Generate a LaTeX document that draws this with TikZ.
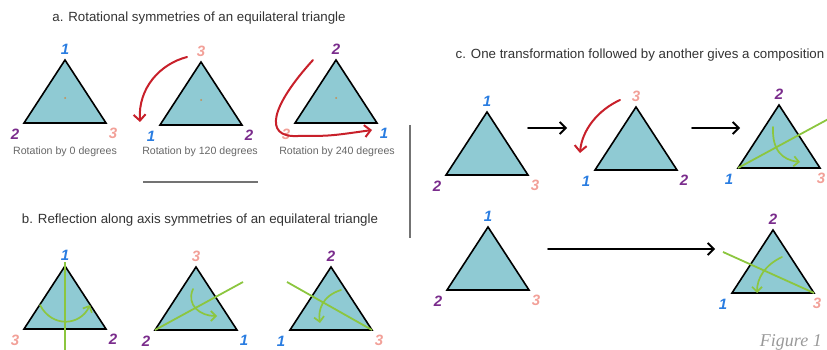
\documentclass[tikz,border=0pt]{standalone}
\usepackage{fontspec}
\setmainfont{Liberation Sans}
\newfontfamily\figfont{Liberation Serif}
\usepackage{tikz}
\usetikzlibrary{positioning,arrows.meta,calc}
\definecolor{SymFill}{HTML}{8FCAD3}
\definecolor{SymBlue}{HTML}{2A7DE1}
\definecolor{SymPurple}{HTML}{7A2C8C}
\definecolor{SymPink}{HTML}{F2A098}
\definecolor{SymRed}{HTML}{C8202A}
\definecolor{SymGreen}{HTML}{8CC63F}
\definecolor{SymDot}{HTML}{C98A4B}
\colorlet{Num1}{SymBlue}
\colorlet{Num2}{SymPurple}
\colorlet{Num3}{SymPink}

% triangle: [right label shift], name, apex x, apex y, top, left, right
\newcommand{\symtri}[7][7]{%
  \coordinate (#2-t) at (#3,#4);
  \coordinate (#2-l) at ($(#2-t)+(-41,63)$);
  \coordinate (#2-r) at ($(#2-t)+(41,63)$);
  \draw[triface] (#2-t) -- (#2-r) -- (#2-l) -- cycle;
  \node[digit=#5] (#2-nt) at ($(#2-t)+(0,-11)$) {#5};
  \node[digit=#6] (#2-nl) at ($(#2-l)+(-9,11)$) {#6};
  \node[digit=#7] (#2-nr) at ($(#2-r)+(#1,10)$) {#7};
}

\begin{document}
\begin{tikzpicture}[
    x=1pt, y=-1pt,
    triface/.style={
      draw=black,
      fill=SymFill,
      line width=1.6pt,
      line join=miter
    },
    digit/.style={
      text=Num#1,
      font=\bfseries\itshape\fontsize{15}{15}\selectfont,
      inner sep=0pt
    },
    titletext/.style={
      text=black!80,
      font=\fontsize{13.3}{15}\selectfont,
      inner sep=0pt
    },
    captext/.style={
      text=black!60,
      font=\fontsize{10.6}{12}\selectfont,
      inner sep=0pt
    },
    rotarrow/.style={
      -{Straight Barb[length=6pt,width=12pt]},
      SymRed,
      line width=2pt,
      line cap=round
    },
    flipline/.style={
      SymGreen,
      line width=1.8pt
    },
    fliparrow/.style={
      -{Straight Barb[length=5pt,width=10pt]},
      SymGreen,
      line width=1.7pt,
      line cap=round
    },
    steparrow/.style={
      -{Straight Barb[length=6pt,width=12pt]},
      black,
      line width=1.8pt,
      line cap=round
    },
    rulegray/.style={
      black!55,
      line width=1.2pt
    }
  ]

  \useasboundingbox (0,0) rectangle (827,350);
  \clip (0,0) rectangle (827,350);

  % a. rotations
  \node[titletext] (titleA) at (199,18) {a. Rotational symmetries of an equilateral triangle};
  \symtri{a1}{65}{60}{1}{2}{3}
  \symtri{a2}{201}{62}{3}{1}{2}
  \symtri{a3}{336}{60}{2}{3}{1}
  \foreach \t in {a1,a2,a3}
    \fill[SymDot] ($(\t-t)+(0,38)$) circle (1);
  \node[captext] (capA1) at (65,152) {Rotation by 0 degrees};
  \node[captext] (capA2) at (200,152) {Rotation by 120 degrees};
  \node[captext] (capA3) at (337,152) {Rotation by 240 degrees};

  \coordinate (ra2s) at (187,57);
  \coordinate (ra2e) at (140,122);
  \draw[rotarrow] (ra2s) .. controls (160,64) and (138,88) .. (ra2e);
  \coordinate (ra3s) at (313,60);
  \coordinate (ra3m) at (298,136);
  \coordinate (ra3e) at (372,130);
  \draw[rotarrow] (ra3s) .. controls (272,105) and (262,138) .. (ra3m)
    .. controls (330,136) .. (ra3e);

  % separators
  \coordinate (sepL) at (143,182);
  \coordinate (sepR) at (258,182);
  \draw[rulegray] (sepL) -- (sepR);
  \coordinate (sepT) at (410,125);
  \coordinate (sepB) at (410,238);
  \draw[rulegray] (sepT) -- (sepB);

  % b. reflections
  \node[titletext] (titleB) at (200,220) {b. Reflection along axis symmetries of an equilateral triangle};
  \symtri{b1}{65}{266}{1}{3}{2}
  \coordinate (axB1t) at (65,262);
  \coordinate (axB1) at (65,350);
  \draw[flipline] (axB1t) -- (axB1);
  \draw[fliparrow] (40,305) .. controls (52,328) and (80,326) .. (90,305);

  \symtri{b2}{196}{267}{3}{2}{1}
  \coordinate (axB2) at (243,282);
  \draw[flipline] (b2-l) -- (axB2);
  \draw[fliparrow] (193,289) .. controls (186,305) and (200,316) .. (217,316);

  \symtri{b3}{331}{267}{2}{1}{3}
  \coordinate (axB3) at (287,282);
  \draw[flipline] (axB3) -- (b3-r);
  \draw[fliparrow] (341,290) .. controls (322,296) and (318,310) .. (320,323);

  % c. composition
  \node[titletext] (titleC) at (640,55) {c. One transformation followed by another gives a composition};
  \symtri{c1}{487}{112}{1}{2}{3}
  \symtri{c2}{636}{107}{3}{1}{2}
  \symtri[1]{c3}{779}{105}{2}{1}{3}
  \coordinate (stepA) at (528,128);
  \coordinate (stepB) at (567,128);
  \draw[steparrow] (stepA) -- (stepB);
  \coordinate (stepC) at (692,128);
  \coordinate (stepD) at (740,128);
  \draw[steparrow] (stepC) -- (stepD);
  \coordinate (rc2s) at (620,100);
  \coordinate (rc2e) at (580,153);
  \draw[rotarrow] (rc2s) .. controls (598,110) and (582,130) .. (rc2e);
  \coordinate (axC3) at (845,110);
  \draw[flipline] (c3-l) -- (axC3);
  \draw[fliparrow] (773,127) .. controls (772,150) and (782,160) .. (800,162);

  \symtri{c4}{488}{227}{1}{2}{3}
  \symtri[3]{c5}{773}{230}{2}{1}{3}
  \coordinate (stepE) at (548,249);
  \coordinate (stepF) at (715,249);
  \draw[steparrow] (stepE) -- (stepF);
  \coordinate (axC5) at (723,252);
  \draw[flipline] (axC5) -- (c5-r);
  \draw[fliparrow] (782,257) .. controls (765,265) and (757,278) .. (757,293);

  \node[text=black!40, font=\figfont\itshape\fontsize{18}{18}\selectfont, anchor=east, inner sep=0pt] (figlabel) at (822,342) {Figure 1};
\end{tikzpicture}
\end{document}
